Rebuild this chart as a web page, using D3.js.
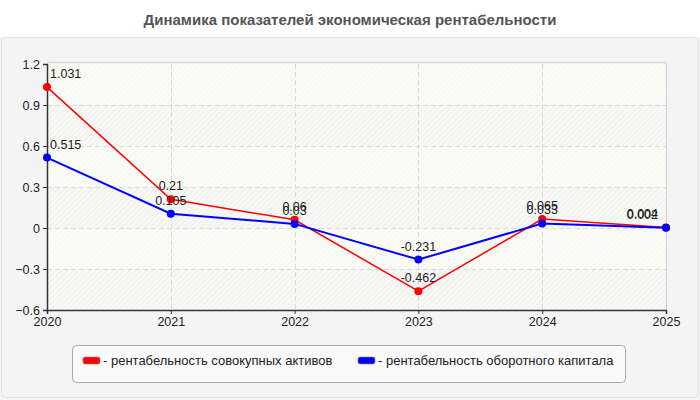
<!DOCTYPE html>
<html>
<head>
<meta charset="utf-8">
<script src="https://cdn.jsdelivr.net/npm/d3@7"></script>
<style>
  body { margin: 0; background: #fff; }
  svg text { font-family: "Liberation Sans", Arial, sans-serif; }
</style>
</head>
<body>
<div id="chart"></div>
<script>
var years = ["2020", "2021", "2022", "2023", "2024", "2025"];
var assets = [1.031, 0.21, 0.06, -0.462, 0.065, 0.004];   // рентабельность совокупных активов
var capital = [0.515, 0.105, 0.03, -0.231, 0.033, 0.002]; // рентабельность оборотного капитала
var yTicks = [-0.6, -0.3, 0, 0.3, 0.6, 0.9, 1.2];
var seriesNames = ["- рентабельность совокупных активов", "- рентабельность оборотного капитала"];
var seriesColors = ["#ff0000", "#0000ff"];

var W = 700, H = 400,
    margin = { top: 64, right: 34, bottom: 90, left: 47 },
    width = W - margin.left - margin.right,
    height = H - margin.top - margin.bottom;

var svg = d3.select("#chart").append("svg")
    .attr("width", W)
    .attr("height", H);

// hatch patterns for the striped background
var defs = svg.append("defs");
function hatch(id, bg, line) {
  var p = defs.append("pattern").attr("id", id)
      .attr("patternUnits", "userSpaceOnUse")
      .attr("width", 4).attr("height", 4)
      .attr("patternTransform", "rotate(45)");
  p.append("rect").attr("width", 4).attr("height", 4).attr("fill", bg);
  p.append("line").attr("x1", 0).attr("y1", 0).attr("x2", 0).attr("y2", 4)
      .attr("stroke", line).attr("stroke-width", 1.2);
}
hatch("hatchA", "#fcfcf6", "#f3f3ee");
hatch("hatchB", "#f8f8f6", "#e9e9e9");

// outer panel
svg.append("rect").attr("x", 0).attr("y", 37).attr("width", W).attr("height", H - 37)
    .attr("fill", "#f4f4f4");
svg.append("rect").attr("x", 1.5).attr("y", 37.5).attr("width", W - 3).attr("height", H - 40)
    .attr("rx", 4).attr("fill", "none").attr("stroke", "#e2e2e2");

svg.append("text")
    .attr("x", W / 2).attr("y", 25)
    .attr("text-anchor", "middle")
    .style("font-size", "15px").style("font-weight", "bold")
    .attr("fill", "#555")
    .text("Динамика показателей экономическая рентабельности");

var g = svg.append("g").attr("transform", "translate(" + margin.left + "," + margin.top + ")");

var x = d3.scalePoint().domain(years).range([0, width]);
var y = d3.scaleLinear().domain([-0.6, 1.2]).range([height, 0]);

// background bands
var bands = d3.pairs(yTicks);
g.selectAll(".band").data(bands).enter().append("rect")
    .attr("x", 0).attr("width", width)
    .attr("y", function(d) { return y(d[1]); })
    .attr("height", function(d) { return y(d[0]) - y(d[1]); })
    .attr("fill", function(d, i) { return i % 2 == 0 ? "url(#hatchB)" : "url(#hatchA)"; });

// frame top / right
g.append("line").attr("x1", 0).attr("x2", width).attr("y1", -1.5).attr("y2", -1.5)
    .attr("stroke", "#dcdcdc").attr("stroke-width", 1.5);
g.append("line").attr("x1", width + 0.5).attr("x2", width + 0.5).attr("y1", -1).attr("y2", height)
    .attr("stroke", "#d0d0d0");

// grid
g.selectAll(".hgrid").data(yTicks.filter(function(d) { return d > -0.6 && d < 1.2; })).enter().append("line")
    .attr("x1", 0).attr("x2", width)
    .attr("y1", function(d) { return Math.round(y(d)) + 0.5; })
    .attr("y2", function(d) { return Math.round(y(d)) + 0.5; })
    .attr("stroke", "#dadada").attr("stroke-dasharray", "5,3");
g.selectAll(".vgrid").data(years.slice(1, -1)).enter().append("line")
    .attr("x1", function(d) { return Math.round(x(d)) + 0.5; })
    .attr("x2", function(d) { return Math.round(x(d)) + 0.5; })
    .attr("y1", 0).attr("y2", height)
    .attr("stroke", "#dadada").attr("stroke-dasharray", "5,3");

// axes
var yAxis = g.append("g").call(d3.axisLeft(y).tickValues(yTicks).tickSize(4).tickPadding(3)
    .tickFormat(function(d) { return d == 0 ? "0" : d3.format(".1f")(d); }));
var xAxis = g.append("g").attr("transform", "translate(0," + height + ")")
    .call(d3.axisBottom(x).tickSize(4).tickPadding(3));
[yAxis, xAxis].forEach(function(a) {
  a.select(".domain").attr("stroke", "#333").attr("stroke-width", 1.5);
  a.selectAll(".tick line").attr("stroke", "#333");
  a.selectAll(".tick text").attr("fill", "#222").style("font-size", "12.5px")
      .style("font-family", "'Liberation Sans', Arial, sans-serif");
});

// series
var series = [assets, capital];
var line = d3.line().x(function(d, i) { return x(years[i]); }).y(function(d) { return y(d); });

series.forEach(function(vals, s) {
  g.append("path").datum(vals).attr("d", line)
      .attr("fill", "none").attr("stroke", seriesColors[s])
      .attr("stroke-width", s == 0 ? 1.5 : 2);
});
series.forEach(function(vals, s) {
  g.selectAll(".pt" + s).data(vals).enter().append("circle")
      .attr("cx", function(d, i) { return x(years[i]); })
      .attr("cy", function(d) { return y(d); })
      .attr("r", 4).attr("fill", seriesColors[s]);
});
series.forEach(function(vals, s) {
  g.selectAll(".lbl" + s).data(vals).enter().append("text")
      .attr("x", function(d, i) { return i == 0 ? x(years[i]) + 3 : (i == years.length - 1 ? x(years[i]) - 8 : x(years[i])); })
      .attr("y", function(d) { return y(d) - 9; })
      .attr("text-anchor", function(d, i) { return i == 0 ? "start" : (i == years.length - 1 ? "end" : "middle"); })
      .style("font-size", "12.5px").attr("fill", "#222")
      .text(function(d) { return String(d); });
});

// legend
var lg = svg.append("g");
lg.append("rect").attr("x", 72.5).attr("y", 345.5).attr("width", 553).attr("height", 37)
    .attr("rx", 4).attr("fill", "#fafafa").attr("stroke", "#aaa");
var legX = [83, 358];
seriesNames.forEach(function(name, s) {
  lg.append("rect").attr("x", legX[s]).attr("y", 357).attr("width", 17).attr("height", 7)
      .attr("rx", 2).attr("fill", seriesColors[s]).attr("stroke", "#888").attr("stroke-width", 0.6);
  lg.append("text").attr("x", legX[s] + 20).attr("y", 365)
      .style("font-size", "13px").attr("fill", "#222").text(name);
});
</script>
</body>
</html>
